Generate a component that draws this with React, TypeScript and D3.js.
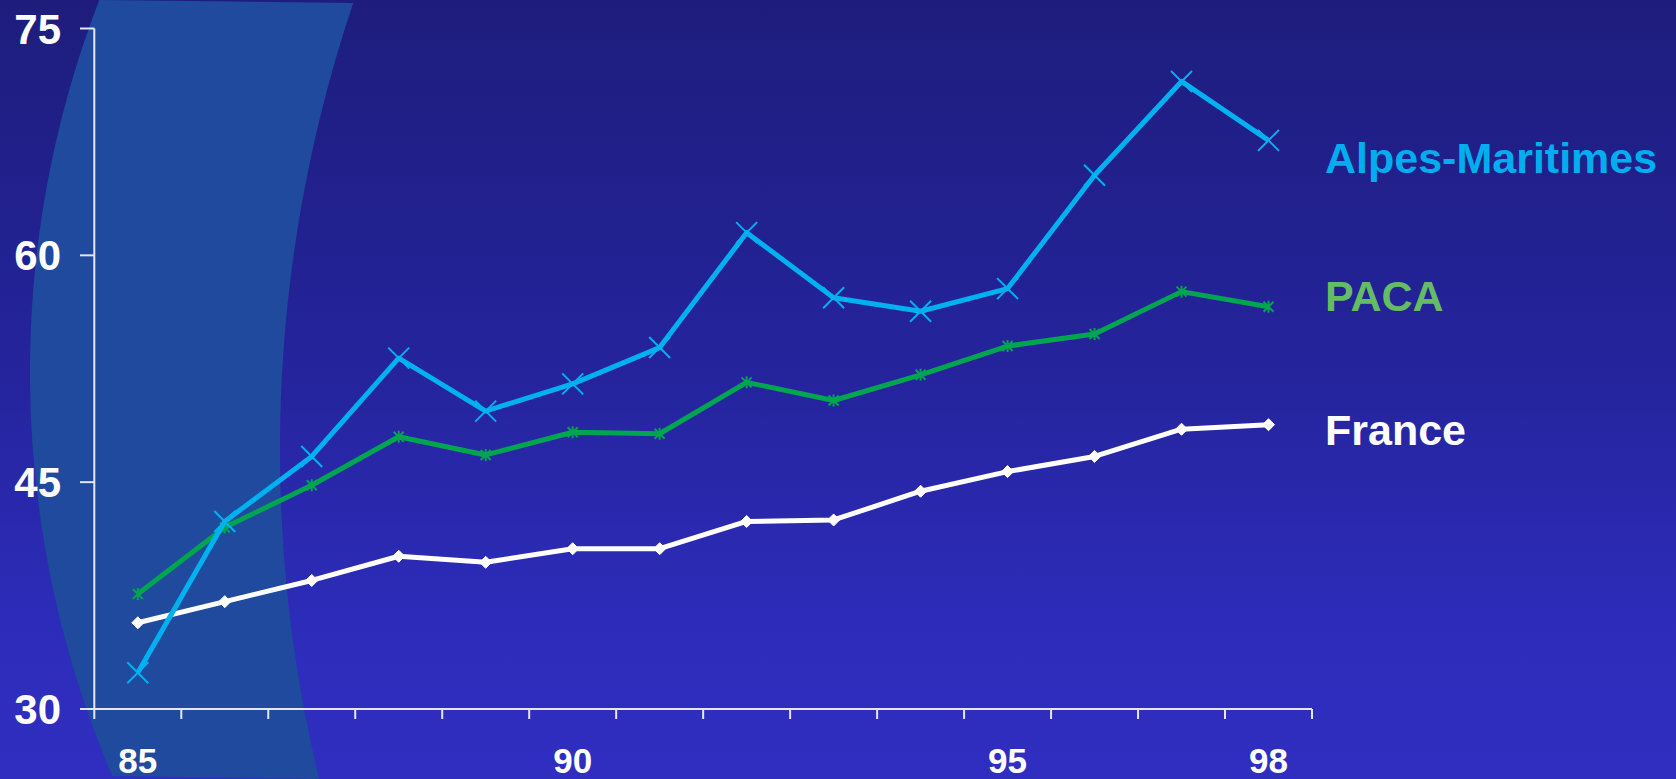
import React from "react";
import * as d3 from "d3";

// Yearly values, 1985–1998
const years = [85, 86, 87, 88, 89, 90, 91, 92, 93, 94, 95, 96, 97, 98];
const alpesMaritimes = [32.4, 42.4, 46.7, 53.2, 49.7, 51.5, 53.9, 61.5, 57.2, 56.3, 57.8, 65.3, 71.5, 67.6];
const paca = [37.6, 42.0, 44.8, 48.0, 46.8, 48.3, 48.2, 51.6, 50.4, 52.1, 54.0, 54.8, 57.6, 56.6];
const france = [35.7, 37.1, 38.5, 40.1, 39.7, 40.6, 40.6, 42.4, 42.5, 44.4, 45.7, 46.7, 48.5, 48.8];

const yTicks = [30, 45, 60, 75];
const xLabels = [85, 90, 95, 98];

const W = 1676;
const H = 779;
const FONT = "'Liberation Sans', Arial, Helvetica, sans-serif";

type Marker = "x" | "asterisk" | "diamond";

const seriesList: { name: string; values: number[]; line: string; label: string; marker: Marker; labelY: number }[] = [
  { name: "France", values: france, line: "#ffffff", label: "#ffffff", marker: "diamond", labelY: 445 },
  { name: "PACA", values: paca, line: "#00a54f", label: "#64bc64", marker: "asterisk", labelY: 311 },
  { name: "Alpes-Maritimes", values: alpesMaritimes, line: "#00b1ef", label: "#00aeef", marker: "x", labelY: 173 },
];

function markerPath(kind: Marker, x: number, y: number): string {
  if (kind === "x") {
    const s = 10.5;
    return `M${x - s},${y - s}L${x + s},${y + s}M${x - s},${y + s}L${x + s},${y - s}`;
  }
  if (kind === "asterisk") {
    const s = 5;
    return `M${x - s},${y - s}L${x + s},${y + s}M${x - s},${y + s}L${x + s},${y - s}M${x},${y - s - 1}L${x},${y + s + 1}`;
  }
  const s = 6;
  return `M${x},${y - s}L${x + s},${y}L${x},${y + s}L${x - s},${y}Z`;
}

// Decorative light band: the region between two large circles on the left side
function bandPath(): string {
  const L = { cx: 1063, cy: 372, r: 1033 };
  const R = { cx: 1680, cy: 450, r: 1400 };
  const xOn = (c: { cx: number; cy: number; r: number }, y: number) =>
    c.cx - Math.sqrt(c.r * c.r - (y - c.cy) * (y - c.cy));
  const pts: string[] = [];
  for (let y = 0; y <= H; y += 4) pts.push(`${xOn(L, y).toFixed(1)},${y}`);
  const back: string[] = [];
  for (let y = H; y >= 0; y -= 4) back.push(`${xOn(R, y).toFixed(1)},${y}`);
  return `M${pts.join("L")}L${back.join("L")}Z`;
}

export default function App() {
  const x = d3.scaleBand<number>().domain(years).range([94.3, 1312]).paddingInner(0).paddingOuter(0);
  const y = d3.scaleLinear().domain([30, 75]).range([709, 28.5]);
  const cx = (yr: number) => (x(yr) as number) + x.bandwidth() / 2;

  const lineGen = d3
    .line<number>()
    .x((_, i) => cx(years[i]))
    .y((v) => y(v));

  const boundaries = [...years.map((yr) => x(yr) as number), x.range()[1]];
  const axisX0 = 94.3;
  const axisY0 = y(30);

  return (
    <svg
      width={W}
      height={H}
      style={{ position: "absolute", left: 0, top: 0, display: "block" }}
      fontFamily={FONT}
    >
      <defs>
        <linearGradient id="bg" x1="0" y1="0" x2="0" y2="1">
          <stop offset="0" stopColor="#1e1d7d" />
          <stop offset="0.45" stopColor="#24239a" />
          <stop offset="0.8" stopColor="#2d2cba" />
          <stop offset="1" stopColor="#2f2ec0" />
        </linearGradient>
      </defs>
      <rect x={0} y={0} width={W} height={H} fill="url(#bg)" />
      <path d={bandPath()} fill="#1f4a9d" />

      {/* axes */}
      <g stroke="#e6e6f2" strokeWidth={2} fill="none">
        <line x1={axisX0} y1={y(75)} x2={axisX0} y2={axisY0} />
        <line x1={80} y1={axisY0} x2={x.range()[1]} y2={axisY0} />
        {yTicks.map((t) => (
          <line key={t} x1={80} y1={y(t)} x2={axisX0} y2={y(t)} />
        ))}
        {boundaries.map((bx, i) => (
          <line key={i} x1={bx} y1={axisY0} x2={bx} y2={axisY0 + 10} />
        ))}
      </g>

      {yTicks.map((t) => (
        <text
          key={t}
          x={61}
          y={y(t)}
          dy="0.36em"
          textAnchor="end"
          fill="#ffffff"
          fontWeight="bold"
          fontSize={42}
        >
          {t}
        </text>
      ))}
      {xLabels.map((t) => (
        <text key={t} x={cx(t)} y={773} textAnchor="middle" fill="#ffffff" fontWeight="bold" fontSize={35}>
          {t}
        </text>
      ))}

      {seriesList.map((s) => (
        <g key={s.name}>
          <path d={lineGen(s.values) ?? ""} fill="none" stroke={s.line} strokeWidth={5} strokeLinejoin="round" />
          {s.values.map((v, i) => (
            <path
              key={i}
              d={markerPath(s.marker, cx(years[i]), y(v))}
              fill={s.marker === "diamond" ? s.line : "none"}
              stroke={s.line}
              strokeWidth={s.marker === "diamond" ? 1 : 2}
            />
          ))}
          <text x={1325} y={s.labelY} fill={s.label} fontWeight="bold" fontSize={43}>
            {s.name}
          </text>
        </g>
      ))}
    </svg>
  );
}
